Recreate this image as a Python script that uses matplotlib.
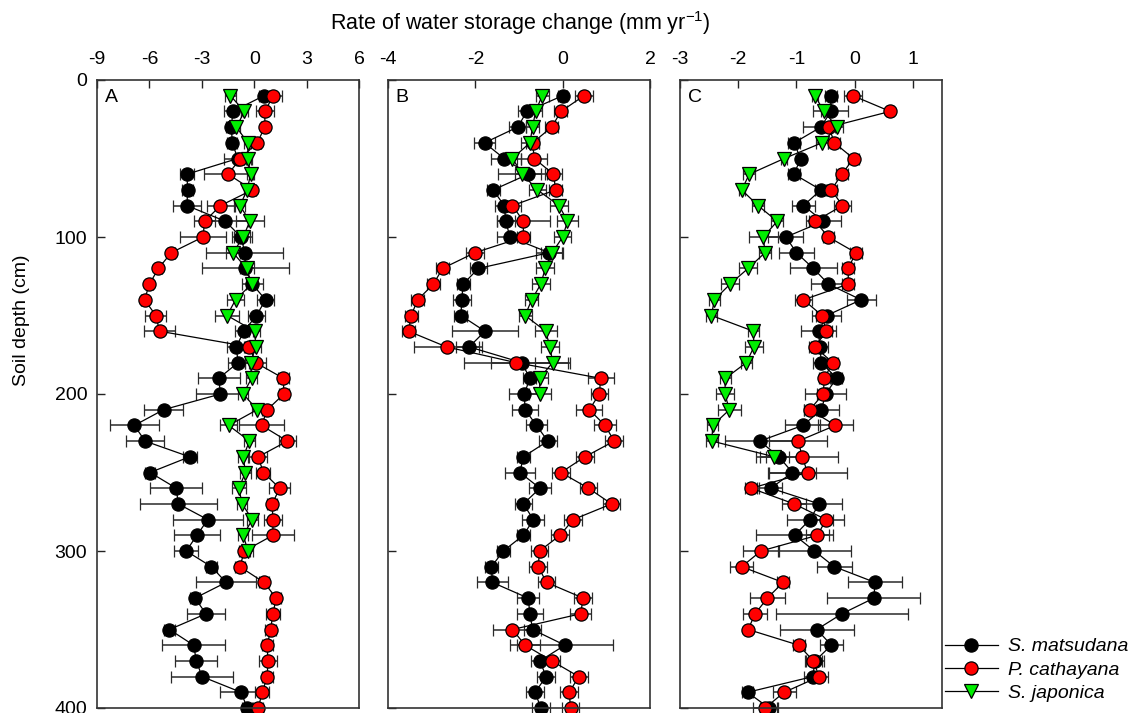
import matplotlib
matplotlib.use("Agg")
import matplotlib.pyplot as plt
from matplotlib.lines import Line2D
import numpy as np

plt.rcParams['font.family'] = ['Liberation Sans', 'DejaVu Sans']
plt.rcParams['mathtext.fontset'] = 'custom'
plt.rcParams['mathtext.rm'] = 'Liberation Sans'
plt.rcParams['mathtext.it'] = 'Liberation Sans:italic'

depth = list(range(10, 410, 10))

species = ["S. matsudana", "P. cathayana", "S. japonica"]

# ---- Panel A ----
a_sm = [0.56, -1.23, -1.30, -1.26, -0.94, -3.85, -3.81, -3.85, -1.65, -0.75,
        -0.54, -0.50, -0.11, 0.65, 0.13, -0.59, -1.03, -0.92, -2.03, -1.93,
        -5.19, -6.86, -6.25, -3.70, -5.96, -4.46, -4.35, -2.66, -3.28, -3.89,
        -2.45, -1.61, -3.39, -2.76, -4.85, -3.47, -3.31, -2.99, -0.75, -0.40]
a_sm_err = [0.3, 0.5, 0.3, 0.3, 0.8, 0.4, 0.3, 0.8, 1.3, 0.5,
            2.2, 2.5, 0.6, 0.5, 0.5, 0.5, 0.5, 0.6, 1.2, 1.4,
            1.1, 1.4, 1.1, 0.4, 0.3, 1.5, 2.2, 2.0, 1.3, 0.7,
            0.3, 1.7, 0.3, 1.1, 0.3, 1.8, 1.2, 1.8, 1.2, 0.3]
a_pc = [1.09, 0.61, 0.61, 0.17, -0.79, -1.49, -0.11, -1.93, -2.84, -2.93,
        -4.75, -5.48, -6.00, -6.28, -5.63, -5.42, -0.27, 0.08, 1.67, 1.70,
        0.75, 0.42, 1.90, 0.23, 0.52, 1.46, 1.03, 1.07, 1.07, -0.56,
        -0.82, 0.56, 1.26, 1.07, 0.94, 0.75, 0.78, 0.75, 0.46, 0.23]
a_pc_err = [0.5, 0.5, 0.2, 0.2, 0.3, 1.4, 0.2, 0.8, 0.6, 1.3,
            0.2, 0.2, 0.2, 0.2, 0.6, 0.9, 0.3, 0.6, 0.3, 0.3,
            0.2, 1.3, 0.5, 0.5, 0.4, 0.6, 0.3, 0.5, 1.2, 0.3,
            0.3, 0.3, 0.3, 0.4, 0.3, 0.3, 0.5, 0.3, 0.4, 0.3]
a_sj = [-1.36, -0.56, -1.02, -0.36, -0.36, -0.21, -0.40, -0.82, -0.25, -0.63,
        -1.21, -0.44, -0.15, -1.07, -1.55, 0.02, 0.10, -0.21, -0.15, -0.63,
        0.17, -1.46, -0.27, -0.63, -0.50, -0.88, -0.69, -0.11, -0.63, -0.35]
a_sj_err = [0.3, 0.2, 0.2, 0.2, 0.2, 0.2, 0.2, 0.3, 0.8, 0.5,
            0.4, 0.4, 0.3, 0.5, 0.7, 0.3, 0.3, 0.3, 0.3, 0.3,
            0.3, 0.5, 0.3, 0.3, 0.3, 0.4, 0.3, 0.3, 0.3, 0.3]

# ---- Panel B ----
b_sm = [0.00, -0.82, -1.03, -1.79, -1.34, -0.79, -1.59, -1.34, -1.30, -1.21,
        -0.31, -1.93, -2.28, -2.31, -2.33, -1.78, -2.14, -0.94, -0.75, -0.88,
        -0.86, -0.60, -0.34, -0.90, -0.98, -0.52, -0.90, -0.67, -0.90, -1.36,
        -1.63, -1.61, -0.79, -0.75, -0.69, 0.05, -0.52, -0.38, -0.63, -0.50]
b_sm_err = [0.1, 0.2, 0.2, 0.25, 0.3, 0.3, 0.15, 0.2, 0.2, 0.3,
            0.3, 0.2, 0.15, 0.2, 0.15, 0.75, 0.3, 0.7, 0.15, 0.35,
            0.3, 0.25, 0.2, 0.15, 0.35, 0.25, 0.2, 0.25, 0.15, 0.15,
            0.15, 0.35, 0.25, 0.3, 0.2, 1.1, 0.2, 0.2, 0.2, 0.2]
b_pc = [0.49, -0.04, -0.25, -0.69, -0.65, -0.21, -0.16, -1.15, -0.90, -0.90,
        -2.01, -2.75, -2.96, -3.32, -3.47, -3.53, -2.66, -1.07, 0.87, 0.84,
        0.61, 0.97, 1.18, 0.51, -0.04, 0.59, 1.12, 0.24, -0.06, -0.53,
        -0.56, -0.37, 0.47, 0.41, -1.15, -0.86, -0.25, 0.37, 0.15, 0.18]
b_pc_err = [0.2, 0.15, 0.15, 0.15, 0.3, 0.2, 0.15, 0.2, 0.6, 0.15,
            0.2, 0.15, 0.15, 0.15, 0.15, 0.15, 0.75, 1.2, 0.3, 0.2,
            0.3, 0.25, 0.2, 0.2, 0.2, 0.2, 0.2, 0.2, 0.2, 0.2,
            0.2, 0.2, 0.2, 0.25, 0.45, 0.35, 0.2, 0.2, 0.2, 0.2]
b_sj = [-0.47, -0.62, -0.69, -0.75, -1.15, -0.92, -0.58, -0.08, 0.11, 0.00,
        -0.24, -0.40, -0.50, -0.71, -0.86, -0.39, -0.29, -0.23, -0.53, -0.52]
b_sj_err = [0.15, 0.15, 0.15, 0.2, 0.2, 0.55, 0.2, 0.2, 0.25, 0.2,
            0.25, 0.2, 0.2, 0.15, 0.15, 0.25, 0.2, 0.4, 0.2, 0.25]

# ---- Panel C ----
c_sm = [-0.41, -0.41, -0.58, -1.04, -0.93, -1.04, -0.58, -0.88, -0.54, -1.18,
        -1.00, -0.71, -0.45, 0.11, -0.48, -0.62, -0.60, -0.57, -0.31, -0.50,
        -0.57, -0.89, -1.63, -1.30, -1.07, -1.44, -0.61, -0.77, -1.03, -0.69,
        -0.35, 0.35, 0.33, -0.22, -0.65, -0.40, -0.68, -0.72, -1.84, -1.47]
c_sm_err = [0.1, 0.3, 0.3, 0.1, 0.05, 0.1, 0.1, 0.2, 0.3, 0.3,
            0.3, 0.4, 0.3, 0.25, 0.25, 0.3, 0.15, 0.15, 0.1, 0.35,
            0.3, 0.3, 0.6, 0.4, 0.4, 0.2, 0.4, 0.4, 0.66, 0.62,
            0.3, 0.46, 0.8, 1.13, 0.64, 0.2, 0.15, 0.15, 0.1, 0.15]
c_pc = [-0.03, 0.61, -0.44, -0.35, -0.02, -0.22, -0.40, -0.21, -0.68, -0.45,
        0.02, -0.11, -0.11, -0.88, -0.56, -0.49, -0.68, -0.38, -0.52, -0.54,
        -0.77, -0.33, -0.97, -0.90, -0.81, -1.78, -1.04, -0.49, -0.64, -1.61,
        -1.94, -1.23, -1.50, -1.71, -1.83, -0.96, -0.71, -0.61, -1.21, -1.54]
c_pc_err = [0.15, 0.05, 0.1, 0.1, 0.1, 0.1, 0.1, 0.15, 0.1, 0.1,
            0.1, 0.1, 0.1, 0.15, 0.1, 0.1, 0.1, 0.1, 0.1, 0.1,
            0.1, 0.3, 0.5, 0.62, 0.68, 0.1, 0.2, 0.3, 0.2, 0.31,
            0.2, 0.1, 0.3, 0.2, 0.05, 0.1, 0.15, 0.15, 0.2, 0.2]
c_sj = [-0.68, -0.53, -0.30, -0.56, -1.21, -1.81, -1.94, -1.66, -1.33, -1.57,
        -1.54, -1.83, -2.14, -2.41, -2.46, -1.74, -1.73, -1.86, -2.22, -2.23,
        -2.15, -2.44, -2.45, -1.38]
c_sj_err = [0.05, 0.05, 0.1, 0.1, 0.05, 0.1, 0.05, 0.1, 0.1, 0.25,
            0.1, 0.15, 0.15, 0.1, 0.1, 0.1, 0.15, 0.1, 0.1, 0.15,
            0.2, 0.1, 0.1, 0.25]

panels = [
    ("A", (-9, 6), [-9, -6, -3, 0, 3, 6], [(a_sm, a_sm_err), (a_pc, a_pc_err), (a_sj, a_sj_err)]),
    ("B", (-4, 2), [-4, -2, 0, 2], [(b_sm, b_sm_err), (b_pc, b_pc_err), (b_sj, b_sj_err)]),
    ("C", (-3, 1.5), [-3, -2, -1, 0, 1], [(c_sm, c_sm_err), (c_pc, c_pc_err), (c_sj, c_sj_err)]),
]

styles = [
    dict(marker='o', mfc='black', ms=9.5),
    dict(marker='o', mfc='#ff0000', ms=9.5),
    dict(marker='v', mfc='#00ee00', ms=10),
]

W, H = 1145, 713
lefts = [97, 388, 680]
fig = plt.figure(figsize=(W / 100, H / 100), dpi=100)

for i, (lab, xl, xt, series) in enumerate(panels):
    ax = fig.add_axes([lefts[i] / W, 5 / H, 262 / W, 628 / H])
    for (vals, errs), st in zip(series, styles):
        d = depth[:len(vals)]
        eb = ax.errorbar(vals, d, xerr=errs, fmt='-', color='black', lw=0.9,
                         mec='black', mew=0.9, ecolor='#2a2a2a', elinewidth=1.1,
                         capsize=4.5, capthick=1.1, **st)
        for art in eb.get_children():
            art.set_clip_on(False)
    ax.set_xlim(*xl)
    ax.set_ylim(400, 0)
    ax.set_xticks(xt)
    ax.set_xticklabels([str(v) for v in xt])
    ax.set_yticks([0, 100, 200, 300, 400])
    ax.xaxis.tick_top()
    ax.tick_params(axis='x', direction='in', length=6, width=1, labelsize=14,
                   top=True, bottom=False, labeltop=True, labelbottom=False, pad=9,
                   colors='#222222', labelcolor='black')
    ax.tick_params(axis='y', direction='in', length=6, width=1, labelsize=14,
                   left=True, right=False, labelleft=(i == 0), pad=7,
                   colors='#222222', labelcolor='black')
    for sp in ax.spines.values():
        sp.set_color('#333333')
        sp.set_linewidth(1.2)
    ax.text(0.03, 0.985, lab, transform=ax.transAxes, ha='left', va='top', fontsize=14)

fig.text(22 / W, 1 - 320 / H, "Soil depth (cm)", rotation=90, ha='center', va='center',
         fontsize=14)
fig.text(520 / W, 1 - 23 / H, "Rate of water storage change (mm yr$^{-1}$)",
         ha='center', va='center', fontsize=15.5)

handles = [Line2D([], [], color='black', lw=0.9, mec='black', mew=0.9, **st) for st in styles]
fig.legend(handles, species, loc='center left', bbox_to_anchor=(945 / W, 1 - 670 / H),
           frameon=False, prop={'style': 'italic', 'size': 14},
           handlelength=2.7, handletextpad=0.55, labelspacing=0.3,
           borderpad=0, borderaxespad=0)

fig.savefig("out.png", dpi=100)
